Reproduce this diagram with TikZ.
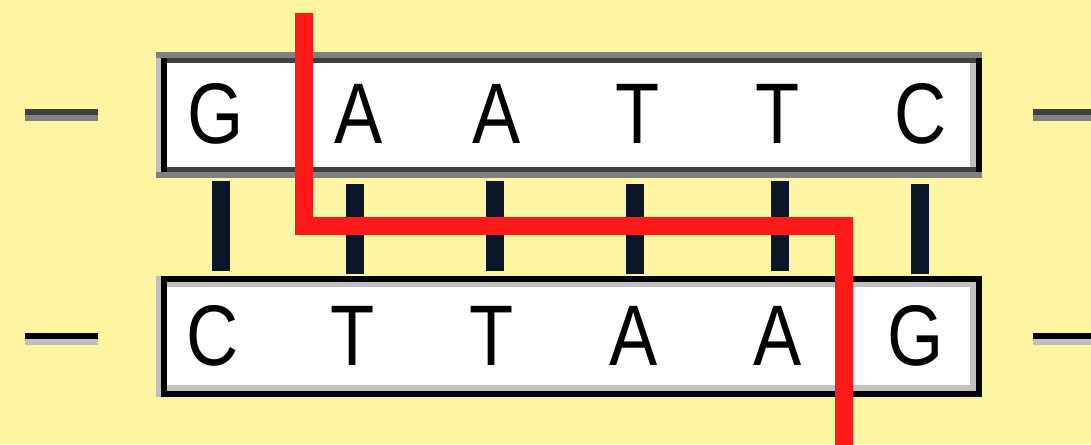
\documentclass[tikz,border=0pt]{standalone}
\usepackage{fontspec}
\setmainfont{Liberation Sans}
\definecolor{bg}{HTML}{FEF5A3}
\definecolor{bar}{HTML}{0C1629}
\definecolor{cut}{HTML}{FF1A1A}
\definecolor{gA}{HTML}{808080}
\definecolor{gB}{HTML}{404040}
\definecolor{gC}{HTML}{C0C0C0}
\begin{document}
\begin{tikzpicture}[x=1pt,y=-1pt,
  base/.style={font=\fontsize{86}{86}\selectfont, inner sep=0pt, anchor=base, xscale=0.84, transform shape},
  pairbar/.style={bar, line width=18pt},
  cutline/.style={cut, line width=18pt, miter limit=10}]
\useasboundingbox (0,0) rectangle (1091,444);
\fill[bg] (0,0) rectangle (1091,444);
% top strand box
\fill[white] (156,52) rectangle (982,178);
\fill[gA] (156,52) rectangle (982,58);
\fill[gB] (161,58) rectangle (976,63);
\fill[gB] (161,167) rectangle (976,172);
\fill[gA] (156,172) rectangle (982,178);
\fill[gC] (156,58) rectangle (161,172);
\fill[black] (161,58) rectangle (167,172);
\fill[gC] (970,63) rectangle (976,167);
\fill[black] (976,58) rectangle (982,172);
% bottom strand box
\fill[white] (156,276) rectangle (982,397);
\fill[black] (161,276) rectangle (982,282);
\fill[gC] (167,282) rectangle (970,287);
\fill[gC] (167,385) rectangle (970,391);
\fill[black] (161,391) rectangle (982,397);
\fill[gC] (156,276) rectangle (161,397);
\fill[black] (161,276) rectangle (167,397);
\fill[gC] (970,282) rectangle (976,391);
\fill[black] (976,276) rectangle (982,397);
% backbone dashes
\fill[gB] (25,109) rectangle (98,115); \fill[gA] (25,115) rectangle (98,121);
\fill[gB] (1033,109) rectangle (1091,115); \fill[gA] (1033,115) rectangle (1091,121);
\fill[black] (25,333) rectangle (98,339); \fill[gC] (25,339) rectangle (98,345);
\fill[black] (1033,333) rectangle (1091,339); \fill[gC] (1033,339) rectangle (1091,345);
% bases
\node[base] (t1) at (216,143) {G};
\node[base] (t2) at (359,143) {A};
\node[base] (t3) at (497,143) {A};
\node[base] (t4) at (638,143) {T};
\node[base] (t5) at (778,143) {T};
\node[base] (t6) at (921,143) {C};
\node[base] (b1) at (213,365) {C};
\node[base] (b2) at (353,365) {T};
\node[base] (b3) at (492,365) {T};
\node[base] (b4) at (634,365) {A};
\node[base] (b5) at (778,365) {A};
\node[base] (b6) at (916,365) {G};
% base pairs
\coordinate (p1a) at (221,181); \coordinate (p1b) at (221,271);
\coordinate (p2a) at (355,184); \coordinate (p2b) at (355,274);
\coordinate (p3a) at (495,181); \coordinate (p3b) at (495,271);
\coordinate (p4a) at (635,184); \coordinate (p4b) at (635,274);
\coordinate (p5a) at (780,181); \coordinate (p5b) at (780,271);
\coordinate (p6a) at (920,184); \coordinate (p6b) at (920,274);
\foreach \i in {1,...,6} \draw[pairbar] (p\i a) -- (p\i b);
% cut line
\coordinate (c0) at (304,13);
\coordinate (c1) at (304,226);
\coordinate (c2) at (844,226);
\coordinate (c3) at (844,450);
\draw[cutline] (c0) -- (c1) -- (c2) -- (c3);
\end{tikzpicture}
\end{document}
